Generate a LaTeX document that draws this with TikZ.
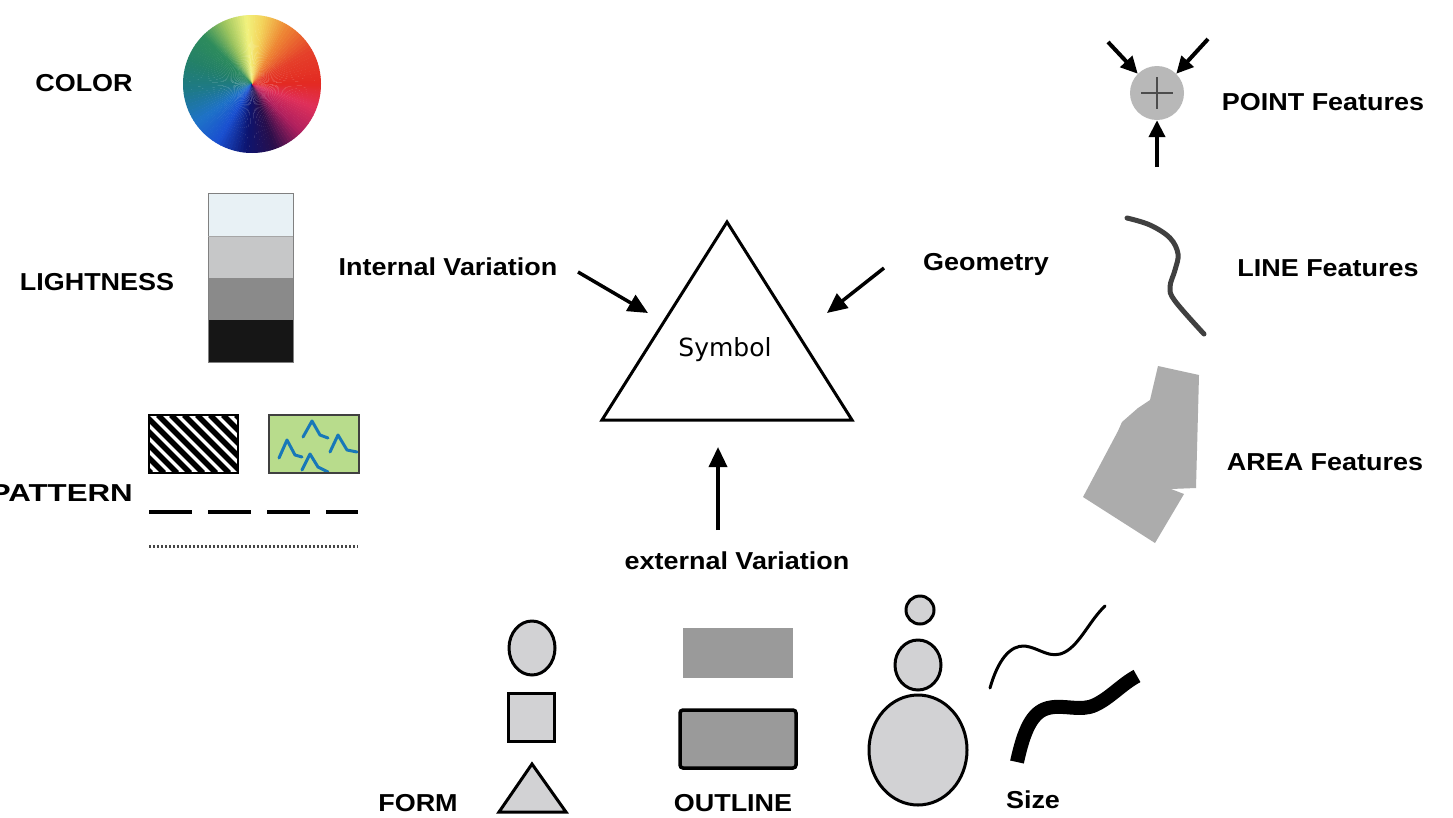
\documentclass[tikz,border=0pt]{standalone}
\usepackage{fontspec}
\setmainfont{Liberation Sans}
\newfontfamily\labfont[FakeStretch=1.1]{Liberation Sans}
\newfontfamily\symfont{DejaVu Sans}
\usetikzlibrary{arrows.meta,shapes.geometric}
\definecolor{k0}{HTML}{E32A22}
\definecolor{k30}{HTML}{E5402A}
\definecolor{k60}{HTML}{EE8A35}
\definecolor{k80}{HTML}{F3D25A}
\definecolor{k95}{HTML}{F2F27E}
\definecolor{k115}{HTML}{9CC45E}
\definecolor{k135}{HTML}{2E8C5C}
\definecolor{k160}{HTML}{238068}
\definecolor{k185}{HTML}{1E7A86}
\definecolor{k215}{HTML}{1E72C8}
\definecolor{k240}{HTML}{1A4FD0}
\definecolor{k265}{HTML}{0C1470}
\definecolor{k290}{HTML}{2A0E4A}
\definecolor{k315}{HTML}{B0205E}
\definecolor{k340}{HTML}{E0305A}
\definecolor{lt1}{HTML}{E8F1F5}
\definecolor{lt2}{HTML}{C6C7C8}
\definecolor{lt3}{HTML}{8A8A8A}
\definecolor{lt4}{HTML}{161616}
\definecolor{shapegray}{HTML}{D2D2D4}
\definecolor{midgray}{HTML}{9A9A9A}
\definecolor{featgray}{HTML}{B8B8B8}
\definecolor{areagray}{HTML}{ACACAC}
\definecolor{greenfill}{HTML}{B8DC8C}
\definecolor{squig}{HTML}{1878B8}
\tikzset{
  lab/.style={font=\labfont\bfseries\fontsize{24.5}{28}\selectfont, inner sep=0pt},
  symlab/.style={font=\symfont\fontsize{25}{28}\selectfont, inner sep=0pt},
  bigarrow/.style={line width=3.5pt, -{Triangle[length=20pt,width=18pt]}},
  smallarrow/.style={line width=4pt, -{Triangle[length=17pt,width=16pt]}},
  shapeform/.style={fill=shapegray, draw=black, line width=3pt},
  squiggle/.style={draw=squig, line width=3pt, line join=round, line cap=round},
}
\begin{document}
\begin{tikzpicture}[x=1pt,y=-1pt]
\useasboundingbox (0,0) rectangle (1453,817);
\fill[white] (0,0) rectangle (1453,817);

% ---------- COLOR ----------
\node[lab] (color) at (84,83) {COLOR};
\begin{scope}[shift={(252,84)}, yscale=-1]
  \foreach \a/\b/\ca/\cb in {0/30/k0/k30, 30/60/k30/k60, 60/80/k60/k80, 80/95/k80/k95,
      95/115/k95/k115, 115/135/k115/k135, 135/160/k135/k160, 160/185/k160/k185,
      185/215/k185/k215, 215/240/k215/k240, 240/265/k240/k265, 265/290/k265/k290,
      290/315/k290/k315, 315/340/k315/k340, 340/360/k340/k0} {
    \foreach \j in {0,...,9} {
      \pgfmathsetmacro\sa{\a+(\b-\a)*\j/10}
      \pgfmathsetmacro\ea{\a+(\b-\a)*(\j+1)/10+0.4}
      \pgfmathtruncatemacro\p{\j*10+5}
      \colorlet{wc}{\cb!\p!\ca}
      \fill[wc] (0,0) -- (\sa:69) arc[start angle=\sa, end angle=\ea, radius=69] -- cycle;
    }
  }
\end{scope}

% ---------- LIGHTNESS ----------
\node[lab] (lightness) at (97,282) {LIGHTNESS};
\fill[lt1] (208,193) rectangle (293,236);
\fill[lt2] (208,236) rectangle (293,278);
\fill[lt3] (208,278) rectangle (293,320);
\fill[lt4] (208,320) rectangle (293,362);
\draw[gray, line width=1pt] (208,193) rectangle (293,362);
\draw[gray!70, line width=0.8pt] (208,236) -- (293,236);

% ---------- PATTERN ----------
\node[lab, anchor=east] (pattern) at (133,493) {\scalebox{1.16}[1]{PATTERN}};
\begin{scope}
  \clip (149,415) rectangle (238,473);
  \foreach \x in {80,93,...,250} {
    \draw[line width=5.5pt] (\x,415) -- (\x+58,473);
  }
\end{scope}
\draw[line width=2pt] (149,415) rectangle (238,473);
\fill[greenfill] (269,415) rectangle (359,473);
\begin{scope}
  \clip (269,415) rectangle (359,473);
  \draw[squiggle] (279,458) -- (287,440) -- (295,455) -- (302,457);
  \draw[squiggle] (303,437) -- (312,421) -- (320,435) -- (328,438);
  \draw[squiggle] (330,452) -- (338,435) -- (347,450) -- (357,452);
  \draw[squiggle] (302,470) -- (310,454) -- (318,467) -- (328,472);
\end{scope}
\draw[black!75, line width=2pt] (269,415) rectangle (359,473);
\draw[line width=3.5pt, dash pattern=on 43pt off 16pt] (149,512) -- (358,512);
\draw[gray!55!black, line width=3pt, dash pattern=on 2pt off 2pt] (149,546) -- (358,546);

% ---------- SYMBOL ----------
\coordinate (apex) at (727,222);
\coordinate (bl) at (602,420);
\coordinate (br) at (852,420);
\draw[line width=3pt, line join=miter] (apex) -- (br) -- (bl) -- cycle;
\node[symlab] (symbol) at (725,350) {Symbol};

\node[lab] (internal) at (448,267) {Internal Variation};
\node[lab] (geometry) at (986,264) {Geometry};
\node[lab] (external) at (737,561) {external Variation};
\coordinate (intS) at (578,272);
\coordinate (intE) at (648,313);
\coordinate (geoS) at (884,268);
\coordinate (geoE) at (827,313);
\coordinate (extS) at (718,530);
\coordinate (extE) at (718,447);
\draw[bigarrow] (intS) -- (intE);
\draw[bigarrow] (geoS) -- (geoE);
\draw[bigarrow] (extS) -- (extE);

% ---------- POINT / LINE / AREA ----------
\node[circle, fill=featgray, minimum size=54pt, inner sep=0pt] (pt) at (1157,93) {};
\draw[black!70, line width=1.2pt] (1141,93) -- (1173,93) (1157,77) -- (1157,109);
\coordinate (p1) at (1108,42);
\coordinate (p2) at (1208,39);
\coordinate (p3) at (1157,167);
\draw[smallarrow] (p1) -- (pt.north west);
\draw[smallarrow] (p2) -- (pt.north east);
\draw[smallarrow] (p3) -- (pt.south);
\node[lab] (pointf) at (1323,102) {POINT Features};

\draw[black!75, line width=5pt, line cap=round]
  plot[smooth, tension=0.6] coordinates {(1127,218) (1150,225) (1170,238) (1178,254) (1175,270) (1170,287) (1175,301) (1204,334)};
\node[lab] (linef) at (1328,268) {LINE Features};

\fill[areagray] (1158,366) -- (1199,375) -- (1196,488) -- (1171,489) -- (1184,494)
  -- (1155,543) -- (1083,497) -- (1118,431) -- (1122,422) -- (1138,408) -- (1150,400) -- cycle;
\node[lab] (areaf) at (1325,462) {AREA Features};

% ---------- FORM ----------
\node[shapeform, ellipse, minimum width=46pt, minimum height=54pt, inner sep=0pt] (fcirc) at (532,648) {};
\draw[shapeform] (508,693) rectangle (554,741);
\draw[shapeform, line join=miter] (532,764) -- (566,812) -- (499,812) -- cycle;
\node[lab] (form) at (418,803) {FORM};

% ---------- OUTLINE ----------
\fill[midgray] (683,628) rectangle (793,678);
\draw[fill=midgray, draw=black, line width=3.5pt, rounded corners=3pt] (680,710) rectangle (796,768);
\node[lab] (outline) at (733,803) {OUTLINE};

% ---------- SIZE ----------
\node[shapeform, circle, minimum size=28pt, inner sep=0pt] (s1) at (920,610) {};
\node[shapeform, ellipse, minimum width=46pt, minimum height=50pt, inner sep=0pt] (s2) at (918,665) {};
\node[shapeform, ellipse, minimum width=98pt, minimum height=110pt, inner sep=0pt] (s3) at (918,750) {};
\draw[line width=3pt, line cap=round]
  (990,688) .. controls (998,660) and (1010,645) .. (1025,646)
  .. controls (1040,648) and (1050,660) .. (1065,652)
  .. controls (1080,644) and (1090,620) .. (1105,606);
\draw[line width=14pt]
  (1017,762) .. controls (1024,730) and (1032,712) .. (1048,708)
  .. controls (1064,704) and (1080,712) .. (1095,705)
  .. controls (1110,698) and (1122,684) .. (1137,676);
\node[lab] (size) at (1033,800) {Size};
\end{tikzpicture}
\end{document}
